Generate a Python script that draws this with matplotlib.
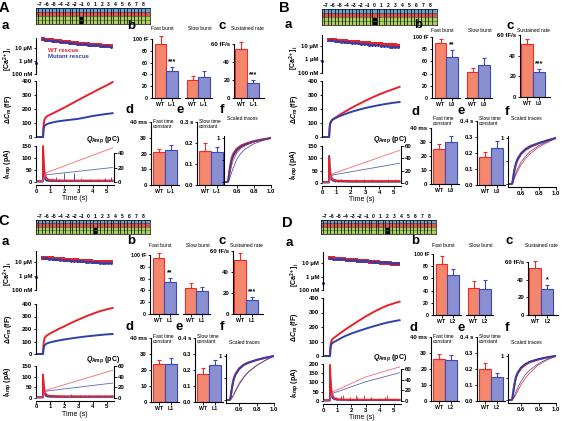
import matplotlib
matplotlib.use('Agg')
import matplotlib.pyplot as plt
from matplotlib.patches import Rectangle

plt.rcParams['font.family'] = ['Liberation Sans', 'DejaVu Sans']
plt.rcParams['font.weight'] = 'bold'
plt.rcParams['mathtext.fontset'] = 'custom'
plt.rcParams['mathtext.rm'] = 'Liberation Sans:bold'
plt.rcParams['mathtext.it'] = 'Liberation Sans:italic:bold'
plt.rcParams['mathtext.bf'] = 'Liberation Sans:bold'

# ---------------- data ----------------
panels = ['A', 'B', 'C', 'D']
mutants = ['L-1', 'L0', 'L1', 'L2']
mutant_pos = [-1, 0, 1, 2]
strip_labels = list(range(-7, 9))

# bar panels (WT, mutant) and upward errors
fast_burst = [[92, 45], [90, 67], [95, 55], [83, 66]]
fast_burst_err = [[13, 8], [7, 11], [9, 6], [14, 10]]
fast_burst_sig = ['***', '**', '**', '']
slow_burst = [[30, 35], [42, 54], [44, 39], [44, 43]]
slow_burst_err = [[8, 11], [8, 12], [9, 7], [11, 14]]
sustained = [[54, 17], [51, 24], [51, 13], [53, 30]]
sustained_err = [[8, 3], [5, 3], [7, 3], [8, 4]]
sustained_sig = ['***', '***', '***', '*']
fast_tau = [[21, 22.5], [25, 30], [23.5, 23.5], [26.5, 25.5]]
fast_tau_err = [[2, 3], [3.5, 4], [2.5, 4], [3, 3.5]]
slow_tau = [[0.16, 0.155], [0.175, 0.23], [0.175, 0.23], [0.2, 0.15]]
slow_tau_err = [[0.04, 0.025], [0.03, 0.045], [0.035, 0.035], [0.035, 0.025]]
slow_tau_max = [0.3, 0.4, 0.4, 0.4]

# [Ca2+]i (uM)
ca_t = [0.5, 0.7, 0.9, 1.1, 1.3, 1.5, 1.7, 1.9, 2.1, 2.3, 2.5, 2.7, 2.9,
        3.1, 3.3, 3.5, 3.7, 3.9, 4.1, 4.3, 4.5, 4.7, 4.9, 5.1, 5.3]
ca_red = [
    [48, 44, 41, 38, 36, 34, 32, 30, 28.5, 27, 25.5, 24, 23, 22, 21, 20, 19, 18.2, 17.5, 16.8, 16, 15.4, 14.8, 14.3, 13.8],
    [30, 28, 26.5, 25, 24, 23, 22, 21, 20, 19, 18.2, 17.4, 16.6, 16, 15.4, 14.8, 14.2, 13.7, 13.2, 12.7, 12.2, 11.8, 11.4, 11, 10.6],
    [20, 19.2, 18.5, 17.8, 17.1, 16.5, 15.9, 15.3, 14.8, 14.3, 13.8, 13.3, 12.9, 12.5, 12.1, 11.7, 11.4, 11.1, 10.8, 10.5, 10.2, 10, 9.8, 9.6, 9.4],
    [23, 22, 21, 20, 19.2, 18.4, 17.6, 16.9, 16.2, 15.5, 14.9, 14.3, 13.7, 13.2, 12.7, 12.2, 11.7, 11.2, 10.7, 10.2, 9.7, 9.3, 8.9, 8.5, 8.1],
]
ca_blue = [
    [46, 43, 40, 37, 35, 33, 31, 29, 27.5, 26, 24.5, 23, 22, 21, 20, 19, 18, 17.2, 16.5, 15.8, 15, 14.4, 13.8, 13.3, 12.8],
    [28, 26, 24.5, 23, 21.5, 20.5, 19.5, 18.5, 17.5, 16.6, 15.8, 15, 14.2, 13.5, 12.8, 12.2, 11.6, 11, 10.5, 10, 9.5, 9.1, 8.7, 8.3, 8],
    [19.5, 18.5, 17.6, 16.8, 16.1, 15.4, 14.8, 14.2, 13.6, 13.1, 12.6, 12.1, 11.7, 11.3, 10.9, 10.6, 10.3, 10, 9.7, 9.4, 9.2, 9, 8.8, 8.6, 8.4],
    [22, 21.2, 20.4, 19.6, 18.9, 18.2, 17.5, 16.9, 16.3, 15.7, 15.2, 14.7, 14.2, 13.7, 13.3, 12.9, 12.5, 12.1, 11.7, 11.3, 10.9, 10.5, 10.1, 9.7, 9.4],
]
ca_base = [0.7, 0.8, 0.9, 0.35]

# capacitance (fF)
cm_t = [0, 0.49, 0.5, 0.52, 0.55, 0.6, 0.65, 0.7, 0.8, 0.9, 1.0,
        1.25, 1.5, 2.0, 2.5, 3.0, 3.5, 4.0, 4.5, 5.0, 5.4]
cm_red = [
    [0, 0, 5, 60, 100, 125, 135, 142, 150, 155, 160, 172, 185, 210, 238, 265, 292, 318, 345, 370, 392],
    [0, 0, 5, 50, 85, 105, 115, 122, 130, 137, 143, 160, 175, 205, 232, 258, 282, 305, 325, 343, 358],
    [0, 0, 5, 60, 100, 125, 135, 142, 150, 158, 165, 180, 195, 222, 250, 275, 300, 322, 342, 358, 368],
    [0, 0, 5, 55, 85, 105, 115, 120, 128, 135, 142, 160, 178, 210, 242, 272, 300, 325, 347, 363, 375],
]
cm_blue = [
    [0, 0, 3, 40, 65, 78, 84, 88, 93, 97, 100, 106, 111, 118, 124, 130, 140, 150, 158, 165, 170],
    [0, 0, 5, 50, 85, 105, 113, 120, 127, 133, 138, 150, 160, 178, 193, 207, 218, 228, 237, 245, 250],
    [0, 0, 3, 35, 55, 68, 75, 80, 86, 90, 93, 100, 106, 116, 125, 133, 140, 146, 152, 157, 160],
    [0, 0, 5, 45, 70, 82, 88, 92, 98, 103, 108, 122, 135, 155, 172, 188, 203, 217, 230, 240, 247],
]

# amperometric current (pA)
i_t = [0, 0.49, 0.5, 0.52, 0.55, 0.6, 0.65, 0.7, 0.8, 1.0, 1.5, 2.0, 3.0, 4.0, 5.0, 5.4]
i_red = [
    [3, 3, 150, 120, 80, 45, 28, 18, 12, 8, 7, 6, 6, 6, 6, 6],
    [4, 4, 105, 80, 55, 35, 25, 18, 13, 10, 9, 8, 8, 8, 8, 8],
    [4, 4, 110, 85, 60, 38, 25, 18, 13, 10, 9, 8, 8, 8, 8, 8],
    [4, 4, 195, 150, 100, 60, 40, 25, 15, 10, 8, 7, 7, 7, 7, 7],
]
i_blue = [
    [3, 3, 140, 100, 55, 25, 12, 7, 5, 4, 4, 4, 4, 4, 4, 4],
    [4, 4, 110, 80, 50, 28, 18, 12, 9, 7, 6, 5, 5, 5, 5, 5],
    [4, 4, 95, 70, 45, 25, 15, 10, 7, 6, 5, 5, 5, 5, 5, 5],
    [4, 4, 150, 110, 70, 40, 25, 15, 10, 7, 6, 5, 5, 5, 5, 5],
]
ev_red_t = [[1.1, 1.6, 2.1, 2.7, 3.2, 3.8, 4.4, 4.9, 5.3],
            [0.9, 1.3, 1.8, 2.4, 2.9, 3.5, 4.1, 4.6, 5.1],
            [1.0, 1.5, 2.0, 2.6, 3.1, 3.7, 4.3, 4.8],
            [0.9, 1.4, 1.9, 2.3, 2.9, 3.4, 4.0, 4.5, 5.0]]
ev_red_h = [[15, 12, 14, 28, 15, 12, 14, 18, 12],
            [18, 15, 14, 16, 15, 17, 14, 16, 15],
            [15, 14, 13, 16, 14, 13, 15, 12],
            [20, 35, 22, 30, 35, 20, 18, 30, 15]]
ev_blue_t = [[1.4, 2.0, 2.7, 4.8, 5.3], [1.1, 1.8, 2.8, 3.9, 4.7],
             [1.2, 2.5, 3.4, 4.5], [1.3, 2.4, 3.3, 4.4]]
ev_blue_h = [[20, 37, 38, 12, 20], [12, 14, 10, 12, 10],
             [12, 18, 10, 12], [25, 20, 15, 20]]

# amperometric charge (pC)
q_t = [0, 0.5, 0.6, 0.75, 3.0, 5.4]
q_red = [[0, 0, 8, 13, 29.5, 47], [0, 0, 10, 15, 33.4, 53],
         [0, 0, 10, 15, 32.9, 52], [0, 0, 12, 18, 45, 64]]
q_blue = [[0, 0, 6, 10, 14.8, 20], [0, 0, 8, 13, 22.2, 32],
          [0, 0, 8, 13, 20.3, 28], [0, 0, 10, 15, 36, 53]]

# scaled traces
f_t = [0.44, 0.49, 0.5, 0.52, 0.54, 0.56, 0.6, 0.65, 0.7, 0.8, 0.9, 1.0]
f_red = [[0, 0, 0.05, 0.35, 0.55, 0.65, 0.76, 0.83, 0.87, 0.93, 0.97, 1.0],
         [0, 0, 0.02, 0.25, 0.42, 0.52, 0.65, 0.74, 0.8, 0.88, 0.94, 1.0],
         [0, 0, 0.03, 0.3, 0.5, 0.6, 0.72, 0.8, 0.85, 0.91, 0.96, 1.0],
         [0, 0, 0.03, 0.3, 0.5, 0.6, 0.72, 0.8, 0.86, 0.92, 0.97, 1.0]]
f_blue = [[0, 0, 0.03, 0.3, 0.5, 0.6, 0.72, 0.8, 0.85, 0.92, 0.96, 1.0],
          [0, 0, 0.02, 0.28, 0.45, 0.55, 0.67, 0.76, 0.82, 0.89, 0.95, 1.0],
          [0, 0, 0.03, 0.3, 0.48, 0.58, 0.7, 0.79, 0.84, 0.91, 0.96, 1.0],
          [0, 0, 0.03, 0.32, 0.52, 0.62, 0.74, 0.82, 0.87, 0.93, 0.97, 1.0]]
f_red_fit = [[0, 0, 0, 0.2, 0.38, 0.5, 0.66, 0.77, 0.83, 0.91, 0.96, 1.0],
             [0, 0, 0, 0.1, 0.2, 0.28, 0.42, 0.55, 0.65, 0.8, 0.9, 1.0],
             [0, 0, 0, 0.06, 0.14, 0.22, 0.38, 0.52, 0.63, 0.79, 0.9, 1.0],
             [0, 0, 0, 0.05, 0.12, 0.2, 0.35, 0.5, 0.62, 0.8, 0.91, 1.0]]
f_blue_fit = [[0, 0, 0, 0.1, 0.22, 0.33, 0.52, 0.66, 0.75, 0.87, 0.94, 1.0],
              [0, 0, 0, 0.12, 0.24, 0.33, 0.48, 0.6, 0.7, 0.83, 0.92, 1.0],
              [0, 0, 0, 0.05, 0.12, 0.2, 0.35, 0.5, 0.62, 0.78, 0.9, 1.0],
              [0, 0, 0, 0.08, 0.18, 0.27, 0.43, 0.58, 0.68, 0.83, 0.93, 1.0]]

# ---------------- layout (pixels, top-left origin) ----------------
layout = [
    dict(big=(4, 8), strip=(36, 150, 8, 24), a=(5, 26), ax_x=(36, 114),
         ca=(48, 74), cm=(81, 137), ia=(150, 146, 182), q=(40, 153),
         b=(152, 39, 98), c=(234, 44, 98), d=(151, 122, 185), e=(197, 122, 185),
         f=(224, 271, 138, 182), bc_ty=29, de_ty=124, f_ty=118,
         lb=(131, 26), lc=(222, 26), ld=(130, 110), le=(180, 110), lf=(222, 110)),
    dict(big=(284, 8), strip=(322, 437, 9, 25), a=(288, 25), ax_x=(322, 401),
         ca=(46, 73), cm=(81, 137), ia=(150, 146, 183), q=(60, 146),
         b=(432, 37, 98), c=(520, 35, 97), d=(431, 128, 184), e=(477, 121, 185),
         f=(508, 556, 138, 184), bc_ty=30, de_ty=121, f_ty=119,
         lb=(418, 25), lc=(510, 26), ld=(416, 112), le=(461, 111), lf=(507, 112)),
    dict(big=(4, 221), strip=(36, 150, 220, 234), a=(5, 242), ax_x=(36, 114),
         ca=(262, 290), cm=(304, 354), ia=(150, 366, 398), q=(60, 366),
         b=(150, 255, 314), c=(233, 251, 314), d=(151, 338, 402), e=(195, 338, 402),
         f=(226, 274, 356, 400), bc_ty=246, de_ty=339, f_ty=342,
         lb=(131, 241), lc=(222, 241), ld=(130, 327), le=(179, 327), lf=(222, 327)),
    dict(big=(287, 223), strip=(321, 436, 220, 234), a=(289, 243), ax_x=(323, 401),
         ca=(263, 290), cm=(298, 356), ia=(200, 364, 401), q=(60, 369),
         b=(433, 254, 315), c=(528, 262, 315), d=(431, 337, 401), e=(477, 337, 401),
         f=(508, 556, 356, 400), bc_ty=246, de_ty=339, f_ty=342,
         lb=(415, 241), lc=(509, 241), ld=(414, 328), le=(461, 328), lf=(507, 328)),
]

RED = '#e8202a'
BLUE = '#3040a8'
Q_RED = '#f26a72'
Q_BLUE = '#5868c8'
WT_FILL = '#f3876d'
MUT_FILL = '#8a8fd2'
WT_EDGE = '#ee2a2a'
MUT_EDGE = '#3a4ab8'
TICK_FS = 4.3

W, H = 562, 421
fig = plt.figure(figsize=(W / 100, H / 100), dpi=100)


def axes_px(x0, x1, top, bot):
    ax = fig.add_axes([x0 / W, 1 - bot / H, (x1 - x0) / W, (bot - top) / H])
    ax.patch.set_alpha(0)
    return ax


def axes_lin(x0, x1, v1, p1, v0, p0, lo, hi):
    k = (p0 - p1) / (v1 - v0)
    ax = axes_px(x0, x1, p1 - (hi - v1) * k, p0 + (v0 - lo) * k)
    ax.set_ylim(lo, hi)
    return ax


def ftext(x, y, s, **kw):
    fig.text(x / W, 1 - y / H, s, **kw)


def style(ax, left=True, bottom=False, right=False):
    for side in ['top', 'right', 'left', 'bottom']:
        ax.spines[side].set_visible(False)
        ax.spines[side].set_linewidth(0.8)
    ax.spines['left'].set_visible(left)
    ax.spines['bottom'].set_visible(bottom)
    ax.spines['right'].set_visible(right)
    ax.tick_params(labelsize=TICK_FS, length=1.8, width=0.6, pad=1,
                   left=left, labelleft=left, bottom=bottom, labelbottom=bottom,
                   right=right, labelright=right)
    ax.minorticks_off()


def bars(ax, xs, vals, errs):
    ax.bar(xs, vals, width=1, color=[WT_FILL, MUT_FILL],
           edgecolor=[WT_EDGE, MUT_EDGE], linewidth=0.8)
    for x, v, e, c in zip(xs, vals, errs, [WT_EDGE, MUT_EDGE]):
        ax.errorbar(x, v, yerr=[[0], [e]], color=c, lw=0.8, capsize=1.2,
                    capthick=0.8, clip_on=False)


def top_label(ax, ticks, labels):
    ax.set_yticks(ticks)
    ax.set_yticklabels(labels)


for i, L in enumerate(layout):
    mut = mutants[i]
    ftext(*L['big'], panels[i], fontsize=10.5, ha='center', va='center')
    ftext(*L['a'], 'a', fontsize=9.5, ha='center', va='center')

    # sequence strip
    sx0, sx1, sy0, sy1 = L['strip']
    ax = axes_px(sx0, sx1, sy0, sy1)
    ax.set_xlim(-7.58, 9.02)
    ax.set_ylim(0, 4)
    ax.axhspan(3, 4, color='#63a3dc', lw=0)
    ax.axhspan(2, 3, color='#e2544e', lw=0)
    ax.axhspan(0, 2, color='#aacf5c', lw=0)
    ax.axhline(1, color='#5c7a30', lw=0.5)
    ax.axhline(2, color='#444444', lw=0.4)
    ax.axhline(3, color='#444444', lw=0.4)
    for k in strip_labels:
        ax.vlines([k - 0.3, k + 0.3], 0, 4, color='black', lw=0.5)
        ax.text(k, 4.3, str(k).replace('-', '\u2212'), ha='center', va='bottom',
                fontsize=3.6)
    ax.add_patch(Rectangle((mutant_pos[i] - 0.17, 0.1), 0.34, 1.6, color='black'))
    ax.set_xticks([])
    ax.set_yticks([])
    for s in ax.spines.values():
        s.set_linewidth(0.5)

    x0, x1 = L['ax_x']
    # [Ca2+]i
    p10, p01 = L['ca']
    dec = (p01 - p10) / 2
    ax = axes_px(x0, x1, p10 - 0.8 * dec, p01)
    ax.set_yscale('log')
    ax.set_ylim(0.1, 10 ** 1.8)
    ax.set_xlim(0, 5.5)
    style(ax)
    ax.set_yticks([0.1, 1, 10])
    ax.set_yticklabels(['100 nM', '1 \u00b5M', '10 \u00b5M'])
    ax.minorticks_off()
    ax.plot(ca_t, ca_red[i], 's', color=RED, ms=2.2, mew=0, clip_on=False)
    ax.plot(ca_t, ca_blue[i], 'o', color=BLUE, ms=2.2, mew=0, clip_on=False)
    ax.plot([0], [ca_base[i]], 'o', color=BLUE, ms=2.3, mew=0, clip_on=False)
    ftext(x0 - 28, (p10 + p01) / 2 - 2, r'[Ca$^{2+}$]$_\mathregular{i}$',
          rotation=90, ha='center', va='center', fontsize=5)
    if i == 0:
        ftext(48, 51, 'WT rescue', color=RED, fontsize=4.3, va='center')
        ftext(48, 57, 'Mutant rescue', color=BLUE, fontsize=4.3, va='center')

    # capacitance
    p400, p0 = L['cm']
    ax = axes_lin(x0, x1, 400, p400, 0, p0, -12, 412)
    ax.set_xlim(0, 5.5)
    style(ax)
    ax.spines['left'].set_bounds(0, 400)
    ax.set_yticks([0, 100, 200, 300, 400])
    ax.plot(cm_t, cm_red[i], color=RED, lw=1.4)
    ax.plot(cm_t, cm_blue[i], color=BLUE, lw=1.4)
    ftext(x0 - 28, (p400 + p0) / 2, r'$\Delta \mathit{C}_\mathregular{m}$ (fF)',
          rotation=90, ha='center', va='center', fontsize=5)

    # amperometry
    itop, pit, pi0 = L['ia']
    k = (pi0 - pit) / itop
    top = pit - 0.05 * itop * k
    bot = pi0 + 0.08 * itop * k
    ax = axes_px(x0, x1, top, bot)
    ax.set_ylim(-0.08 * itop, 1.05 * itop)
    ax.set_xlim(0, 5.5)
    style(ax, bottom=True)
    ax.spines['left'].set_bounds(0, itop)
    ax.set_yticks(list(range(0, itop + 1, 50)))
    ax.set_xticks([0, 1, 2, 3, 4, 5])
    ax.set_xlabel('Time (s)', fontsize=5, labelpad=1)
    ax.vlines(ev_red_t[i], 5, ev_red_h[i], color=RED, lw=0.6)
    ax.vlines(ev_blue_t[i], 4, ev_blue_h[i], color=BLUE, lw=0.6)
    ax.plot(i_t, i_blue[i], color=BLUE, lw=1.3)
    ax.plot(i_t, i_red[i], color=RED, lw=1.3)
    ftext(x0 - 28, (pit + pi0) / 2, r'$\mathit{I}_\mathregular{Amp}$ (pA)',
          rotation=90, ha='center', va='center', fontsize=5)

    qv, pq = L['q']
    kq = (pi0 - pq) / qv
    axq = axes_px(x0, x1, top, bot)
    axq.set_ylim(-(bot - pi0) / kq, (pi0 - top) / kq)
    axq.set_xlim(0, 5.5)
    style(axq, left=False, right=True)
    axq.spines['right'].set_bounds(0, qv)
    axq.set_yticks(list(range(0, qv + 1, 20)))
    axq.plot(q_t, q_red[i], color=Q_RED, lw=0.6)
    axq.plot(q_t, q_blue[i], color=Q_BLUE, lw=0.6)
    ftext(x1 + 6, pit - 6, r'$\mathit{Q}_\mathregular{Amp}$ (pC)', ha='right',
          va='center', fontsize=5)

    # b: fast / slow burst
    bx, p100, pb0 = L['b']
    ax = axes_lin(bx, bx + 60, 100, p100, 0, pb0, 0, 100)
    ax.set_xlim(-0.75, 4.5)
    style(ax)
    ax.set_yticks([0, 20, 40, 60, 80, 100])
    ax.set_yticklabels(['0', '20', '40', '60', '80', '100 fF'])
    g1, g2 = [0, 1], [2.8, 3.8]
    bars(ax, g1, fast_burst[i], fast_burst_err[i])
    bars(ax, g2, slow_burst[i], slow_burst_err[i])
    for g in (g1, g2):
        ax.plot([g[0] - 0.7, g[1] + 0.7], [0, 0], color='black', lw=0.8, clip_on=False)
    ax.set_xticks(g1 + g2)
    ax.set_xticklabels(['WT', mut, 'WT', mut])
    ax.tick_params(bottom=True, labelbottom=True, labelsize=3.8)
    if fast_burst_sig[i]:
        ax.text(1, fast_burst[i][1] + fast_burst_err[i][1] + 3, fast_burst_sig[i],
                ha='center', va='bottom', fontsize=5)
    ftext(bx + 10, L['bc_ty'], 'Fast burst', fontsize=3.6, ha='center',
          va='center', weight='normal')
    ftext(bx + 48, L['bc_ty'], 'Slow burst', fontsize=3.6, ha='center',
          va='center', weight='normal')
    ftext(*L['lb'], 'b', fontsize=9.5, ha='center', va='center')

    # c: sustained rate
    cx, p60, pc0 = L['c']
    ax = axes_lin(cx, cx + 30, 60, p60, 0, pc0, 0, 60)
    ax.set_xlim(-0.6, 1.9)
    style(ax, bottom=True)
    top_label(ax, [0, 20, 40, 60], ['0', '20', '40', '60 fF/s'])
    bars(ax, [0, 1], sustained[i], sustained_err[i])
    ax.set_xticks([0, 1])
    ax.set_xticklabels(['WT', mut])
    ax.tick_params(axis='x', labelsize=3.8)
    ax.text(1, sustained[i][1] + sustained_err[i][1] + 2, sustained_sig[i],
            ha='center', va='bottom', fontsize=5)
    ftext(cx + 13, L['bc_ty'], 'Sustained rate', fontsize=3.6, ha='center',
          va='center', weight='normal')
    ftext(*L['lc'], 'c', fontsize=9.5, ha='center', va='center')

    # d: fast time constant
    dx, p40, pd0 = L['d']
    ax = axes_lin(dx, dx + 28, 40, p40, 0, pd0, 0, 40)
    ax.set_xlim(-0.7, 1.7)
    style(ax, bottom=True)
    top_label(ax, [0, 10, 20, 30, 40], ['0', '10', '20', '30', '40 ms'])
    bars(ax, [0, 1], fast_tau[i], fast_tau_err[i])
    ax.set_xticks([0, 1])
    ax.set_xticklabels(['WT', mut])
    ax.tick_params(axis='x', labelsize=3.8)
    ftext(dx + 2, L['de_ty'], 'Fast time\nconstant', fontsize=3.6, ha='left',
          va='center', weight='normal', linespacing=0.9)
    ftext(*L['ld'], 'd', fontsize=9.5, ha='center', va='center')

    # e: slow time constant
    ex, pe1, pe0 = L['e']
    emax = slow_tau_max[i]
    ax = axes_lin(ex, ex + 28, emax, pe1, 0, pe0, 0, emax)
    ax.set_xlim(-0.7, 1.7)
    style(ax, bottom=True)
    eticks = [0.0, 0.1, 0.2, 0.3, 0.4][:int(round(emax * 10)) + 1]
    elabels = ['%.1f' % v for v in eticks]
    elabels[-1] += ' s'
    top_label(ax, eticks, elabels)
    bars(ax, [0, 1], slow_tau[i], slow_tau_err[i])
    ax.set_xticks([0, 1])
    ax.set_xticklabels(['WT', mut])
    ax.tick_params(axis='x', labelsize=3.8)
    ftext(ex + 2, L['de_ty'], 'Slow time\nconstant', fontsize=3.6, ha='left',
          va='center', weight='normal', linespacing=0.9)
    ftext(*L['le'], 'e', fontsize=9.5, ha='center', va='center')

    # f: scaled traces
    fx0, fx1, pf1, pf0 = L['f']
    ax = axes_lin(fx0, fx1, 1, pf1, 0, pf0, -0.06, 1.05)
    ax.set_xlim(0.45, 1.0)
    style(ax, bottom=True)
    ax.set_yticks([0, 0.5, 1])
    ax.set_yticklabels(['', '', '1'])
    ax.set_xticks([0.6, 0.8, 1.0])
    ax.set_xticklabels(['0.6', '0.8', '1.0'])
    ax.plot(f_t, f_red[i], color=RED, lw=1.4)
    ax.plot(f_t, f_blue[i], color=BLUE, lw=1.4)
    ax.plot(f_t, f_red_fit[i], color=RED, lw=0.5)
    ax.plot(f_t, f_blue_fit[i], color=BLUE, lw=0.5)
    ftext(fx0 + 3, L['f_ty'], 'Scaled traces', fontsize=3.6, ha='left',
          va='center', weight='normal')
    ftext(*L['lf'], 'f', fontsize=9.5, ha='center', va='center')

fig.savefig('out.png', dpi=100)
